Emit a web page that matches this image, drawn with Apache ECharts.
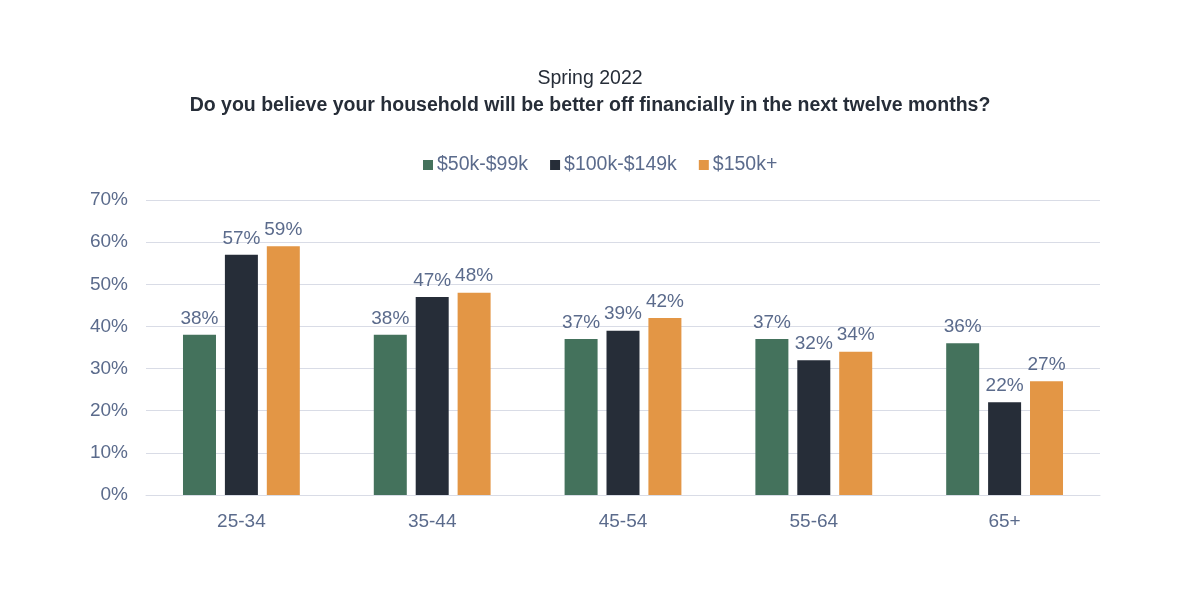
<!DOCTYPE html>
<html><head><meta charset="utf-8">
<script src="https://cdn.jsdelivr.net/npm/echarts@6/dist/echarts.min.js"></script>
<style>html,body{margin:0;padding:0;background:#fff}#c{width:1180px;height:614px}</style>
</head><body><div id="c"></div>
<script>
const categories = ['25-34','35-44','45-54','55-64','65+'];
const seriesNames = ['$50k-$99k','$100k-$149k','$150k+'];
const s50k = [38,38,37,37,36];
const s100k = [57,47,39,32,22];
const s150k = [59,48,42,34,27];
const yTicks = [0,10,20,30,40,50,60,70];
const colors = ['#44725C','#262D38','#E39645'];
const txt = '#5B6B8C';
const font = 'Liberation Sans, Arial, Helvetica, sans-serif';
const chart = echarts.init(document.getElementById('c'));
const mk = (name, data, i) => ({
  name, type:'bar', data, barWidth:33, barGap:'27%',
  itemStyle:{color:colors[i]},
  label:{show:true, position:'top', formatter:'{c}%', color:txt, fontSize:19, fontFamily:font, distance:7}
});
chart.setOption({
  animation:false,
  title:[
    {text:'Spring 2022', left:'center', top:64, textStyle:{fontSize:19.5, fontWeight:'normal', color:'#262D38', fontFamily:font}},
    {text:'Do you believe your household will be better off financially in the next twelve months?', left:'center', top:91, textStyle:{fontSize:19.5, fontWeight:'bold', color:'#262D38', fontFamily:font}}
  ],
  legend:{top:155, left:423, padding:0, itemWidth:10, itemHeight:10, itemGap:22, icon:'rect',
    textStyle:{fontSize:19.5, color:txt, fontFamily:font, padding:[0,0,0,-1]},
    data:seriesNames},
  grid:{left:146, right:80, top:200, bottom:119},
  xAxis:{type:'category', data:categories,
    axisLine:{lineStyle:{color:'#D9DCE6'}}, axisTick:{show:false},
    axisLabel:{fontSize:19, color:txt, fontFamily:font, margin:17}},
  yAxis:{type:'value', min:yTicks[0], max:yTicks[yTicks.length-1], interval:10,
    axisLine:{show:false}, axisTick:{show:false},
    splitLine:{lineStyle:{color:'#D9DCE6'}},
    axisLabel:{fontSize:19, color:txt, fontFamily:font, formatter:'{value}%', margin:18}},
  series:[mk(seriesNames[0], s50k, 0), mk(seriesNames[1], s100k, 1), mk(seriesNames[2], s150k, 2)]
});
</script></body></html>
